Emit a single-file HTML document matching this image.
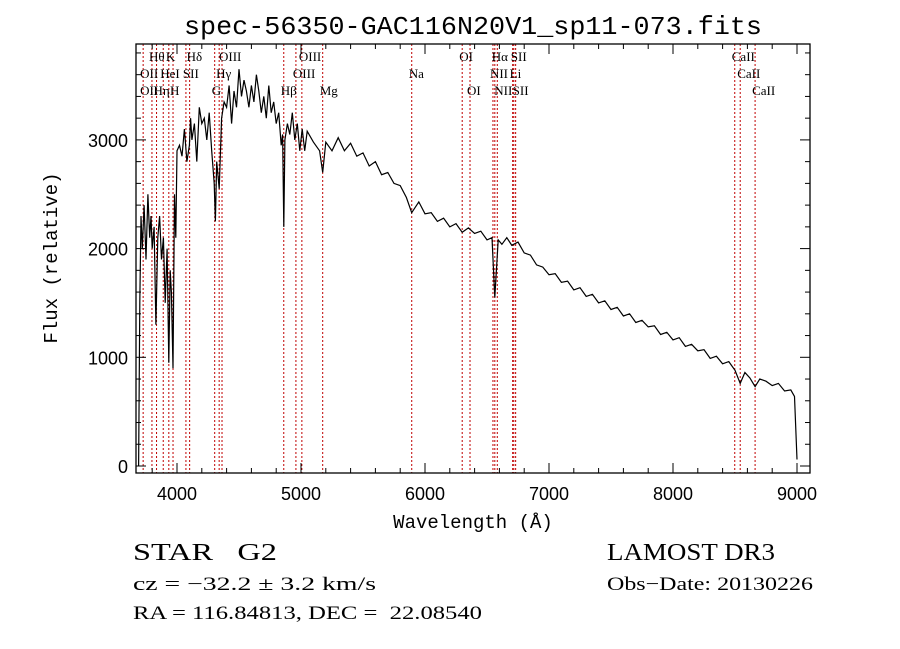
<!DOCTYPE html>
<html><head><meta charset="utf-8"><style>
html,body{margin:0;padding:0;background:#fff;}
svg{display:block;}
text{fill:#000;}
</style></head><body>
<svg id="chart" width="900" height="649" viewBox="0 0 900 649" xmlns="http://www.w3.org/2000/svg">
<rect width="900" height="649" fill="#fff"/>
<text x="473" y="34" text-anchor="middle" font-family="Liberation Mono, monospace" font-size="26" textLength="578" lengthAdjust="spacingAndGlyphs">spec-56350-GAC116N20V1_sp11-073.fits</text>
<g id="lines"></g>
<g id="labels" font-family="Liberation Serif, serif" font-size="13"></g>
<g id="spec"></g>
<g id="axes"></g>
<text x="473" y="528" text-anchor="middle" font-family="Liberation Mono, monospace" font-size="19">Wavelength (Å)</text>
<text transform="translate(57,258) rotate(-90)" text-anchor="middle" font-family="Liberation Mono, monospace" font-size="19">Flux (relative)</text>
<text x="133" y="560" font-family="Liberation Serif, serif" font-size="24" xml:space="preserve" textLength="144" lengthAdjust="spacingAndGlyphs">STAR   G2</text>
<text x="607" y="560" font-family="Liberation Serif, serif" font-size="24" textLength="168" lengthAdjust="spacingAndGlyphs">LAMOST DR3</text>
<text x="133" y="590" font-family="Liberation Serif, serif" font-size="19" xml:space="preserve" textLength="243" lengthAdjust="spacingAndGlyphs">cz = −32.2 ± 3.2 km/s</text>
<text x="607" y="590" font-family="Liberation Serif, serif" font-size="19" textLength="206" lengthAdjust="spacingAndGlyphs">Obs−Date: 20130226</text>
<text x="133" y="619" font-family="Liberation Serif, serif" font-size="19" xml:space="preserve" textLength="349" lengthAdjust="spacingAndGlyphs">RA = 116.84813, DEC =  22.08540</text>
</svg>
<script>
const wavelengths=[
3690,3700,3710,3720,3735,3750,3765,3780,3790,3800,
3815,3830,3845,3860,3875,3890,3905,3920,3934,3945,
3955,3968,3980,3990,4000,4020,4040,4060,4080,4100,
4110,4120,4140,4160,4180,4200,4220,4240,4260,4280,
4300,4310,4320,4340,4360,4380,4400,4420,4440,4460,
4480,4500,4520,4540,4560,4580,4600,4620,4640,4660,
4680,4700,4720,4740,4760,4780,4800,4820,4840,4852,
4861,4870,4890,4910,4930,4950,4970,4990,5010,5030,
5050,5100,5150,5175,5200,5250,5300,5350,5400,5450,
5500,5550,5600,5650,5700,5750,5800,5850,5893,5950,
6000,6050,6100,6150,6200,6250,6300,6350,6400,6450,
6500,6540,6563,6590,6620,6660,6700,6750,6800,6850,
6900,6950,7000,7050,7100,7150,7200,7250,7300,7350,
7400,7450,7500,7550,7600,7650,7700,7750,7800,7850,
7900,7950,8000,8050,8100,8150,8200,8250,8300,8350,
8400,8450,8500,8542,8580,8620,8662,8700,8750,8800,
8850,8900,8950,8980,9000];
const fluxes=[
0,1500,2300,2000,2400,1900,2500,2100,2300,2000,
2200,1300,2100,2300,1900,2100,1500,2000,950,1800,
1600,900,2500,2100,2900,2950,2850,3100,2800,2950,
3200,3000,3150,2800,3300,3150,3200,3000,3250,2900,
2600,2250,2800,2550,3200,3350,3300,3500,3150,3450,
3300,3650,3400,3550,3450,3300,3500,3350,3600,3450,
3250,3400,3200,3500,3250,3350,3150,3250,2950,3050,
2200,3000,3150,3050,3250,3000,3150,2900,3100,2900,
3080,2980,2900,2700,2980,2900,3020,2900,2970,2850,
2880,2760,2800,2680,2700,2600,2580,2470,2330,2430,
2320,2330,2250,2280,2200,2230,2150,2190,2140,2160,
2080,2100,1550,2080,2040,2100,2030,2060,1960,1940,
1850,1830,1760,1770,1690,1700,1620,1640,1560,1580,
1500,1520,1440,1460,1380,1400,1320,1340,1280,1290,
1210,1230,1160,1180,1100,1120,1060,1070,990,1010,
940,960,880,760,860,810,730,800,780,740,
760,690,700,640,60];
const xTicks=[4000,5000,6000,7000,8000,9000];
const yTicks=[0,1000,2000,3000];
const lineWaves=[3727,3798,3835,3889,3934,3968,4072,4102,4304,4340,4363,4861,4959,5007,5175,5893,6300,6363,6548,6563,6583,6707,6716,6731,8498,8542,8662];
const labelText=["Hθ","K","Hδ","OIII","OIII","OI","Hα","SII","CaII","OII","HeI","SII","Hγ","OIII","Na","NII","Li","CaII","OII","Hη","H","G","Hβ","Mg","OI","NII","SII","CaII"];
const labelWave=[3798,3934,4102,4363,5007,6300,6563,6716,8498,3727,3889,4072,4340,4959,5893,6548,6707,8542,3727,3835,3968,4304,4861,5175,6363,6583,6731,8662];
const labelRow=[0,0,0,0,0,0,0,0,0,1,1,1,1,1,1,1,1,1,2,2,2,2,2,2,2,2,2,2];

const X0=136,X1=810,Y0=44,Y1=473;
const xs=w=>177+(w-4000)*0.124;
const ys=f=>466-f*0.1087;
const NS='http://www.w3.org/2000/svg';
function mk(tag,attrs,parent){const e=document.createElementNS(NS,tag);for(const k in attrs)e.setAttribute(k,attrs[k]);parent.appendChild(e);return e;}
const gL=document.getElementById('lines'),gT=document.getElementById('labels'),gS=document.getElementById('spec'),gA=document.getElementById('axes');
lineWaves.forEach(w=>{
  const l=mk('line',{x1:xs(w),x2:xs(w),y1:Y0,y2:Y1,stroke:'#c00000','stroke-width':1,'stroke-dasharray':'2,2'},gL);
  
  
});
labelText.forEach((t,i)=>{
  const e=mk('text',{x:xs(labelWave[i])-3,y:61+labelRow[i]*17},gT);
  e.textContent=t;
  
  
});
let d='';
const n=Math.min(wavelengths.length,fluxes.length);
for(let i=0;i<n;i++){d+=(i?'L':'M')+xs(wavelengths[i]).toFixed(1)+','+ys(fluxes[i]).toFixed(1);}
const p=mk('path',{d:d,fill:'none',stroke:'#000','stroke-width':1.2},gS);


const fr=mk('rect',{x:X0,y:Y0,width:X1-X0,height:Y1-Y0,fill:'none',stroke:'#000','stroke-width':1.3},gA);


for(let w=3800;w<=9100;w+=200){
  const major=w%1000===0,len=major?10:5,x=xs(w);
  mk('line',{x1:x,x2:x,y1:Y1,y2:Y1-len,stroke:'#000'},gA);
  mk('line',{x1:x,x2:x,y1:Y0,y2:Y0+len,stroke:'#000'},gA);
}
for(let f=0;f<=3800;f+=200){
  const major=f%1000===0,len=major?10:5,y=ys(f);
  mk('line',{x1:X0,x2:X0+len,y1:y,y2:y,stroke:'#000'},gA);
  mk('line',{x1:X1,x2:X1-len,y1:y,y2:y,stroke:'#000'},gA);
}
xTicks.forEach(w=>{
  const t=mk('text',{x:xs(w),y:500,'text-anchor':'middle','font-family':'Liberation Sans, sans-serif','font-size':18},gA);
  t.textContent=w;
  
  
});
yTicks.forEach(f=>{
  const t=mk('text',{x:128,y:ys(f)+7,'text-anchor':'end','font-family':'Liberation Sans, sans-serif','font-size':18},gA);
  t.textContent=f;
  
  
});
</script>
</body></html>
